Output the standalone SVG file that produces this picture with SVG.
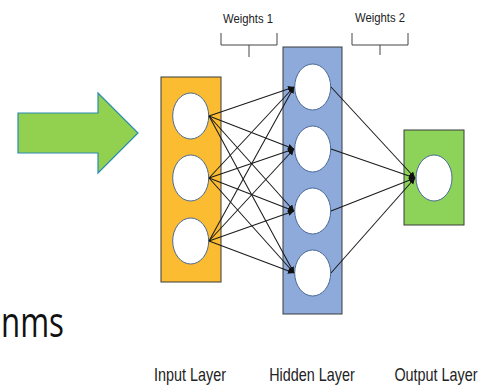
<svg xmlns="http://www.w3.org/2000/svg" width="483" height="387" viewBox="0 0 483 387">
<style>
.lbl{font-family:"Liberation Sans",Arial,sans-serif;fill:#222}
.box{stroke:#3a3a3a;stroke-width:1}
.nd{fill:#fff;stroke:#4a6a96;stroke-width:1}
.cn{stroke:#1a1a1a;stroke-width:1.05;fill:none;marker-end:url(#ah)}
.br{stroke:#444;stroke-width:1;fill:none}
</style>
<defs>
<marker id="ah" markerWidth="8" markerHeight="8" refX="6" refY="3" orient="auto" markerUnits="userSpaceOnUse">
<path d="M0,0 L6,3 L0,6 z" fill="#111"/>
</marker>
</defs>
<rect width="483" height="387" fill="#fff"/>
<g id="big-arrow">
<polygon points="18,113 98,113 98,93 138,133 98,173 98,153 18,153" fill="#92D050" stroke="#2b8cb0" stroke-width="1.2"/>
</g>
<text x="1" y="337" font-family="Open Sans, Liberation Sans, sans-serif" font-size="42" fill="#111" textLength="63" lengthAdjust="spacingAndGlyphs">nms</text>
<g id="brackets">
<path class="br" d="M221,33 V45 H277 V33 M249,45 V57"/>
<path class="br" d="M352,33 V45 H408 V33 M380,45 V55"/>
<text class="lbl" x="248" y="23" font-size="13" text-anchor="middle" textLength="50" lengthAdjust="spacingAndGlyphs">Weights 1</text>
<text class="lbl" x="380" y="22" font-size="13" text-anchor="middle" textLength="50" lengthAdjust="spacingAndGlyphs">Weights 2</text>
</g>
<g id="input-layer">
<rect class="box" x="161" y="77" width="60" height="205" fill="#FBBC32"/>
<ellipse class="nd" cx="190.7" cy="116" rx="18" ry="23"/>
<ellipse class="nd" cx="190.7" cy="178" rx="18" ry="23"/>
<ellipse class="nd" cx="190.7" cy="241" rx="18" ry="23"/>
</g>
<g id="hidden-layer">
<rect class="box" x="283" y="47" width="59" height="267" fill="#8EAADB"/>
<ellipse class="nd" cx="312.7" cy="87" rx="18" ry="23"/>
<ellipse class="nd" cx="312.7" cy="149" rx="18" ry="23"/>
<ellipse class="nd" cx="312.7" cy="211" rx="18" ry="23"/>
<ellipse class="nd" cx="312.7" cy="273" rx="18" ry="23"/>
</g>
<g id="output-layer">
<rect class="box" x="404" y="130" width="60" height="95" fill="#8DD35A"/>
<ellipse class="nd" cx="434" cy="178" rx="18" ry="23"/>
</g>
<g id="connectors">
<path class="cn" d="M209,116 L294,87"/>
<path class="cn" d="M209,116 L294,149"/>
<path class="cn" d="M209,116 L294,211"/>
<path class="cn" d="M209,116 L294,273"/>
<path class="cn" d="M209,178 L294,87"/>
<path class="cn" d="M209,178 L294,149"/>
<path class="cn" d="M209,178 L294,211"/>
<path class="cn" d="M209,178 L294,273"/>
<path class="cn" d="M209,241 L294,87"/>
<path class="cn" d="M209,241 L294,149"/>
<path class="cn" d="M209,241 L294,211"/>
<path class="cn" d="M209,241 L294,273"/>
<path class="cn" d="M331,87 L415,178"/>
<path class="cn" d="M331,149 L415,178"/>
<path class="cn" d="M331,211 L415,178"/>
<path class="cn" d="M331,273 L415,178"/>
</g>
<g id="labels">
<text class="lbl" transform="translate(190,381) scale(0.8,1)" font-size="18" text-anchor="middle">Input Layer</text>
<text class="lbl" transform="translate(312,381) scale(0.8,1)" font-size="18" text-anchor="middle">Hidden Layer</text>
<text class="lbl" transform="translate(436,381) scale(0.8,1)" font-size="18" text-anchor="middle">Output Layer</text>
</g>
</svg>
